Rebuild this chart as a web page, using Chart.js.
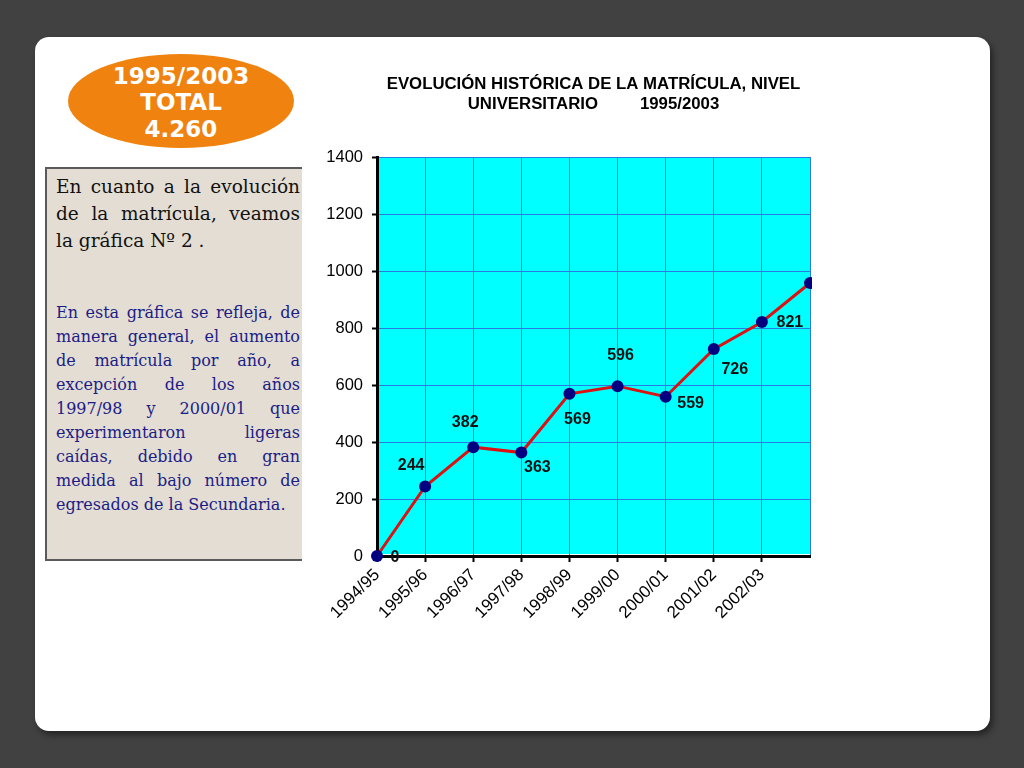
<!DOCTYPE html>
<html>
<head>
<meta charset="utf-8">
<script src="https://cdn.jsdelivr.net/npm/chart.js@4"></script>
<style>
  body { margin: 0; width: 1024px; height: 768px; background: #414141; position: relative; overflow: hidden; }
  .card { position: absolute; left: 35px; top: 37px; width: 955px; height: 694px; background: #fff; border-radius: 14px; box-shadow: 3px 4px 6px rgba(0,0,0,0.45); }
  .badge { position: absolute; left: 68px; top: 54px; width: 226px; height: 94px; border-radius: 50%; background: #f0820f;
           display: flex; flex-direction: column; align-items: center; justify-content: center;
           color: #fff; font: bold 23px "DejaVu Sans", Verdana, sans-serif; line-height: 26.5px; padding-top: 3px; box-sizing: border-box; }
  .note { position: absolute; left: 45px; top: 167px; width: 257px; height: 394px; background: #e3ddd3;
          border-top: 2px solid #5a5a5a; border-left: 2px solid #5a5a5a; border-bottom: 2px solid #5a5a5a; box-sizing: border-box; }
  .para { position: absolute; left: 56px; width: 244px; font-family: "DejaVu Serif", "Liberation Serif", serif; }
  .para .ln { display: flex; justify-content: space-between; white-space: nowrap; }
  .para .last { white-space: nowrap; }
  #p1 { top: 173px; font-size: 18.5px; line-height: 27px; color: #111; }
  #p2 { top: 301px; font-size: 16px; line-height: 24px; color: #1c1c86; }
  #chartBox { position: absolute; left: 290px; top: 70px; width: 540px; height: 590px; }
</style>
</head>
<body>
<div class="card"></div>
<div class="badge"><div>1995/2003</div><div>TOTAL</div><div>4.260</div></div>
<div class="note"></div>
<div class="para" id="p1"></div>
<div class="para" id="p2"></div>
<div id="chartBox"><canvas id="chart" width="540" height="590"></canvas></div>
<script>
// datos de la gráfica
const periodos = ['1994/95', '1995/96', '1996/97', '1997/98', '1998/99', '1999/00', '2000/01', '2001/02', '2002/03', ''];
const matricula = [0, 244, 382, 363, 569, 596, 559, 726, 821, 958];
const etiquetas = ['0', '244', '382', '363', '569', '596', '559', '726', '821', ''];
const yTicks = [0, 200, 400, 600, 800, 1000, 1200, 1400];

const texto1 = ['En cuanto a la evolución', 'de la matrícula, veamos', 'la gráfica Nº 2 .'];
const texto2 = [
  'En esta gráfica se refleja, de',
  'manera general, el aumento',
  'de matrícula por año, a',
  'excepción de los años',
  '1997/98 y 2000/01 que',
  'experimentaron ligeras',
  'caídas, debido en gran',
  'medida al bajo número de',
  'egresados de la Secundaria.'
];

// líneas justificadas como en la diapositiva
function fillPara(el, lines) {
  lines.forEach(function (line, i) {
    const div = document.createElement('div');
    if (i === lines.length - 1) {
      div.className = 'last';
      div.textContent = line;
    } else {
      div.className = 'ln';
      line.split(' ').forEach(function (w) {
        const s = document.createElement('span');
        s.textContent = w;
        div.appendChild(s);
      });
    }
    el.appendChild(div);
  });
}
fillPara(document.getElementById('p1'), texto1);
fillPara(document.getElementById('p2'), texto2);

// desplazamiento de cada etiqueta respecto a su punto
const labelShift = [[18, 2], [-14, -21], [-8, -25], [16, 15], [8, 26], [3, -31], [25, 7], [21, 20], [28, 1], [0, 0]];

const plotBg = {
  id: 'plotBg',
  beforeDraw(chart) {
    const a = chart.chartArea, ctx = chart.ctx;
    ctx.save();
    ctx.fillStyle = '#00ffff';
    ctx.fillRect(a.left, a.top, a.right - a.left, a.bottom - a.top - 2);
    ctx.restore();
  }
};

const pointLabels = {
  id: 'pointLabels',
  afterDraw(chart) {
    const ctx = chart.ctx;
    const meta = chart.getDatasetMeta(0);
    ctx.save();
    ctx.font = 'bold 16px "Liberation Sans", Arial, sans-serif';
    ctx.fillStyle = '#111';
    ctx.textAlign = 'center';
    ctx.textBaseline = 'middle';
    meta.data.forEach(function (pt, i) {
      if (!etiquetas[i]) return;
      ctx.fillText(etiquetas[i], pt.x + labelShift[i][0], pt.y + labelShift[i][1]);
    });
    ctx.restore();
  }
};

const gridBlue = '#2a7ae6';
const font = '"Liberation Sans", Arial, sans-serif';

new Chart(document.getElementById('chart'), {
  type: 'line',
  data: {
    labels: periodos,
    datasets: [{
      data: matricula,
      borderColor: '#dd1111',
      borderWidth: 3,
      pointRadius: 6,
      pointHoverRadius: 6,
      pointBackgroundColor: '#000080',
      pointBorderColor: '#000080',
      pointBorderWidth: 0,
      tension: 0,
      clip: { left: 10, top: 10, right: 2, bottom: 10 }
    }]
  },
  options: {
    responsive: false,
    animation: false,
    layout: { padding: { left: 0, right: 20, top: 0, bottom: 0 } },
    plugins: {
      legend: { display: false },
      tooltip: { enabled: false },
      title: {
        display: true,
        fullSize: false,
        text: ['EVOLUCIÓN HISTÓRICA DE LA MATRÍCULA, NIVEL', 'UNIVERSITARIO         1995/2003'],
        color: '#000',
        font: { family: font, size: 16.8, weight: 'bold', lineHeight: 1.15 },
        padding: { top: 5, bottom: 43.4 }
      }
    },
    scales: {
      x: {
        offset: false,
        afterFit: function (scale) { scale.height = 104; },
        grid: {
          color: gridBlue, lineWidth: 1, tickLength: 6, tickWidth: 2, offset: false,
          tickColor: function (c) { return c.index === periodos.length - 1 ? 'rgba(0,0,0,0)' : '#000'; }
        },
        border: { color: '#000', width: 3 },
        ticks: { color: '#000', font: { family: font, size: 17 }, maxRotation: 45, minRotation: 45, autoSkip: false, padding: 3 }
      },
      y: {
        min: 0,
        max: 1400,
        afterFit: function (scale) { scale.width = 87; },
        afterBuildTicks: function (scale) { scale.ticks = yTicks.map(function (v) { return { value: v }; }); },
        grid: { color: gridBlue, lineWidth: 1, tickColor: '#000', tickLength: 5, tickWidth: 2 },
        border: { color: '#000', width: 3 },
        ticks: { color: '#000', font: { family: font, size: 16.5 }, padding: 9, callback: function (v) { return String(v); } }
      }
    }
  },
  plugins: [plotBg, pointLabels]
});
</script>
</body>
</html>
